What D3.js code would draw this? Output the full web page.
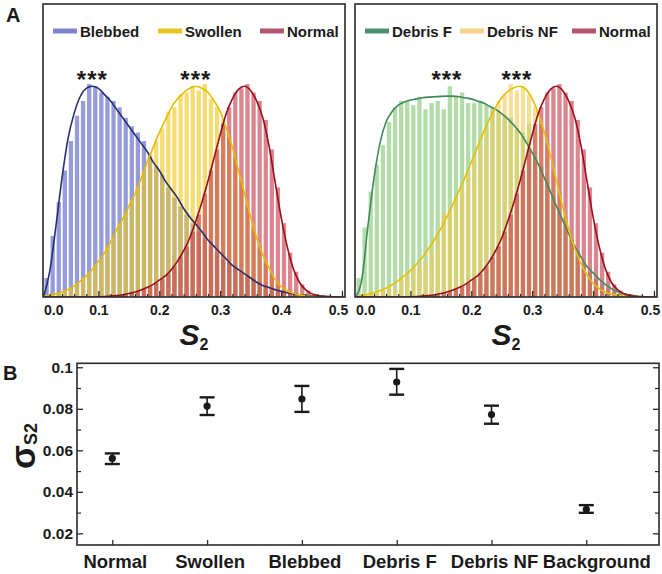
<!DOCTYPE html>
<html><head><meta charset="utf-8">
<script src="https://cdn.jsdelivr.net/npm/d3@7"></script>
<style>
body{margin:0;background:#fff;}
svg text{font-family:"Liberation Sans",Arial,sans-serif;font-weight:bold;fill:#1a1a1a;}
</style></head><body>
<svg id="c" width="662" height="574"></svg>
<script>
// ---------- DATA ----------
const binWidth = 0.01;
const binStart = d3.range(49).map(i => +(0.01 + i * binWidth).toFixed(2));   // 0.01 .. 0.49
const curveX   = d3.range(50).map(i => +(0.01 + i * 0.01).toFixed(2));      // 0.01 .. 0.50

const blebbedBars = [0.09,0.29,0.45,0.60,0.74,0.86,0.93,1.01,1.00,0.97,0.95,0.93,0.90,0.85,0.81,0.78,0.74,0.67,0.62,0.58,0.52,0.47,0.43,0.39,0.35,0.31,0.27,0.24,0.21,0.18,0.16,0.14,0.12,0.10,0.085,0.07,0.055,0.045,0.035,0.028,0.021,0.016,0.012,0.008,0.006,0.004,0.003,0.002,0.001];
const swollenBars = [0.005,0.01,0.02,0.03,0.04,0.06,0.09,0.11,0.15,0.18,0.24,0.28,0.35,0.40,0.46,0.52,0.60,0.68,0.74,0.80,0.88,0.90,0.96,0.97,1.00,0.98,1.01,0.94,0.90,0.84,0.76,0.66,0.55,0.43,0.33,0.24,0.17,0.11,0.07,0.04,0.025,0.014,0.008,0.005,0.003,0.002,0.001,0,0];
const normalBars  = [0,0,0,0,0,0,0,0,0.001,0.002,0.003,0.005,0.008,0.013,0.02,0.028,0.038,0.05,0.066,0.085,0.11,0.145,0.19,0.24,0.31,0.39,0.49,0.60,0.70,0.82,0.90,0.97,0.99,1.01,0.97,0.93,0.84,0.70,0.52,0.35,0.21,0.12,0.06,0.03,0.015,0.007,0.003,0.001,0];
const debrisFBars = [0.09,0.33,0.50,0.63,0.72,0.83,0.90,0.93,0.93,0.91,0.95,0.89,0.92,0.93,0.89,1.00,0.95,0.97,0.92,0.92,0.93,0.91,0.90,0.88,0.86,0.85,0.80,0.78,0.82,0.66,0.62,0.55,0.48,0.40,0.33,0.27,0.21,0.16,0.12,0.085,0.06,0.04,0.025,0.015,0.01,0.006,0.003,0.002,0.001];
const debrisNFBars = [0.005,0.02,0.03,0.025,0.04,0.05,0.04,0.09,0.10,0.14,0.15,0.17,0.22,0.28,0.40,0.41,0.47,0.52,0.58,0.66,0.72,0.80,0.88,0.93,0.96,1.01,0.98,1.00,0.96,0.90,0.82,0.73,0.60,0.50,0.38,0.28,0.19,0.13,0.08,0.05,0.03,0.02,0.01,0.006,0.003,0.001,0,0,0];

const blebbedFit = [0,0.12,0.33,0.56,0.75,0.87,0.95,0.99,1.00,0.99,0.96,0.93,0.89,0.85,0.81,0.77,0.73,0.69,0.64,0.60,0.55,0.51,0.47,0.42,0.38,0.345,0.31,0.27,0.24,0.21,0.18,0.15,0.13,0.11,0.09,0.07,0.055,0.045,0.035,0.027,0.02,0.015,0.011,0.008,0.006,0.004,0.003,0.002,0.001,0];
const swollenFit = [0.003,0.008,0.015,0.024,0.036,0.052,0.075,0.10,0.13,0.17,0.21,0.26,0.32,0.37,0.43,0.49,0.56,0.64,0.71,0.78,0.84,0.90,0.94,0.97,0.99,1.00,0.99,0.97,0.93,0.88,0.80,0.71,0.60,0.49,0.38,0.28,0.20,0.14,0.085,0.05,0.03,0.018,0.01,0.006,0.003,0.002,0.001,0,0,0];
const normalFit = [0,0,0,0,0,0,0,0,0,0.001,0.002,0.004,0.007,0.011,0.017,0.024,0.033,0.045,0.06,0.08,0.10,0.13,0.17,0.22,0.28,0.36,0.45,0.55,0.66,0.77,0.87,0.94,0.985,1.00,0.98,0.93,0.85,0.72,0.55,0.38,0.24,0.135,0.07,0.035,0.016,0.007,0.003,0.001,0,0];
const debrisFFit = [0,0.08,0.33,0.56,0.73,0.83,0.88,0.91,0.925,0.935,0.94,0.945,0.948,0.95,0.952,0.953,0.953,0.95,0.945,0.94,0.93,0.92,0.905,0.89,0.87,0.845,0.815,0.78,0.735,0.685,0.63,0.565,0.50,0.43,0.365,0.30,0.24,0.19,0.145,0.115,0.085,0.06,0.04,0.026,0.016,0.009,0.005,0.002,0.001,0];
const debrisNFFit = [0.002,0.006,0.012,0.02,0.03,0.042,0.058,0.078,0.10,0.125,0.155,0.19,0.23,0.275,0.325,0.38,0.44,0.505,0.57,0.64,0.71,0.78,0.845,0.90,0.945,0.975,0.993,1.00,0.985,0.94,0.87,0.78,0.67,0.55,0.43,0.32,0.23,0.16,0.105,0.065,0.04,0.024,0.014,0.008,0.004,0.002,0.001,0,0,0];

const xTicksMajor = [0.0,0.1,0.2,0.3,0.4,0.5];
const xTicksMinor = [0.02,0.04,0.06,0.08,0.12,0.14,0.16,0.18,0.22,0.24,0.26,0.28,0.32,0.34,0.36,0.38,0.42,0.44,0.46,0.48];

const leftSeries  = ["Blebbed","Swollen","Normal"];
const rightSeries = ["Debris F","Debris NF","Normal"];
const starsLeft  = [0.09, 0.26];
const starsRight = [0.16, 0.275];

const categories = ["Normal","Swollen","Blebbed","Debris F","Debris NF","Background"];
const sigmaMean  = [0.0561,0.0813,0.0847,0.0929,0.0772,0.0316];
const sigmaLow   = [0.0534,0.0770,0.0785,0.0868,0.0728,0.0299];
const sigmaHigh  = [0.0585,0.0855,0.0910,0.0992,0.0815,0.0336];
const yTicksB    = [0.02,0.04,0.06,0.08,0.1];
const yTicksBMinor = [0.03,0.05,0.07,0.09];

// ---------- STYLE ----------
const style = {
  "Blebbed":  {bar:"#6870cc", op:0.7,  line:"#27306e", sw:"#7c84cc"},
  "Swollen":  {bar:"#f0c81a", op:0.62, line:"#e6bd00", sw:"#e8c521"},
  "Normal":   {bar:"#c94353", op:0.65, line:"#990f1d", sw:"#b4566e"},
  "Debris F": {bar:"#7fc46e", op:0.6,  line:"#3f8a5a", sw:"#4d8f6e"},
  "Debris NF":{bar:"#f0cc55", op:0.6,  line:"#e6c000", sw:"#f2d48a"}
};
const barsOf = {"Blebbed":blebbedBars,"Swollen":swollenBars,"Normal":normalBars,"Debris F":debrisFBars,"Debris NF":debrisNFBars};
const fitOf  = {"Blebbed":blebbedFit,"Swollen":swollenFit,"Normal":normalFit,"Debris F":debrisFFit,"Debris NF":debrisNFFit};

const svg = d3.select("#c");
const dark = "#2a2a2a";

// ---------- PANEL A ----------
const pTop = 4, pBottom = 297;
const yA = d3.scaleLinear().domain([0, 1.39]).range([pBottom, pTop]);

const panels = [
  {x0:43, x1:345, series:leftSeries, stars:starsLeft, legendX:[53,158,260], id:"L"},
  {x0:355, x1:657, series:rightSeries, stars:starsRight, legendX:[365,460,572], id:"R"}
];

panels.forEach(p => {
  const x = d3.scaleLinear().domain([0.009, 0.505]).range([p.x0, p.x1]);
  const g = svg.append("g");
  const clipId = "clip" + p.id;
  svg.append("clipPath").attr("id", clipId).append("rect")
    .attr("x", p.x0).attr("y", pTop).attr("width", p.x1 - p.x0).attr("height", pBottom - pTop);
  const plot = g.append("g").attr("clip-path", `url(#${clipId})`);

  p.series.forEach(name => {
    const st = style[name];
    plot.append("g").selectAll("rect").data(barsOf[name]).join("rect")
      .attr("x", (d,i) => x(binStart[i]) + 0.8)
      .attr("width", (d,i) => Math.max(0, x(binStart[i] + binWidth) - x(binStart[i]) - 1.8))
      .attr("y", d => yA(d))
      .attr("height", d => pBottom - yA(d))
      .attr("fill", st.bar).attr("fill-opacity", st.op);
  });
  p.series.forEach(name => {
    const st = style[name];
    const line = d3.line().x((d,i) => x(curveX[i])).y(d => yA(d)).curve(d3.curveMonotoneX);
    plot.append("path").datum(fitOf[name]).attr("d", line)
      .attr("fill","none").attr("stroke", st.line).attr("stroke-width", 1.6);
  });

  g.append("rect").attr("x", p.x0).attr("y", pTop).attr("width", p.x1 - p.x0).attr("height", pBottom - pTop)
    .attr("fill","none").attr("stroke", dark).attr("stroke-width", 1.6);

  const ax = g.append("g").attr("transform", `translate(0,${pBottom})`);
  ax.call(d3.axisBottom(x).tickValues(xTicksMinor).tickSize(-3).tickFormat(""))
    .call(a => a.select(".domain").remove())
    .call(a => a.selectAll("line").attr("stroke", dark).attr("stroke-width", 1.2));
  const axM = g.append("g").attr("transform", `translate(0,${pBottom})`);
  axM.call(d3.axisBottom(x).tickValues(xTicksMajor).tickSize(-6).tickPadding(8).tickFormat(d3.format(".1f")))
    .call(a => a.select(".domain").remove())
    .call(a => a.selectAll("line").attr("stroke", dark).attr("stroke-width", 1.3))
    .call(a => a.selectAll("text").attr("font-size", 14).attr("font-family", null).attr("fill", "#1a1a1a"));
  axM.selectAll(".tick").filter(d => d === 0).call(t => {
    t.select("line").remove();
    t.select("text").attr("text-anchor","start").attr("x", p.x0 - x(0) + 0.5);
  });
  axM.selectAll(".tick").filter(d => d === 0.5).select("text").attr("dx", -4);

  p.series.forEach((name, i) => {
    const lx = p.legendX[i];
    g.append("line").attr("x1", lx).attr("x2", lx + 24).attr("y1", 31).attr("y2", 31)
      .attr("stroke", style[name].sw).attr("stroke-width", 5);
    g.append("text").attr("x", lx + 27).attr("y", 36.5).attr("font-size", 15).text(name);
  });

  g.selectAll("text.star").data(p.stars).join("text").attr("class","star")
    .attr("x", d => x(d)).attr("y", 88).attr("text-anchor","middle")
    .attr("font-size", 24).attr("letter-spacing", 1).text("***");

  const t = g.append("text").attr("x", (p.x0 + p.x1) / 2).attr("y", 345).attr("text-anchor","middle");
  t.append("tspan").attr("font-size", 30).attr("font-style","italic").text("S");
  t.append("tspan").attr("font-size", 16).attr("dy", 5).text("2");
});

svg.append("text").attr("x", 6).attr("y", 22).attr("font-size", 20).text("A");

// ---------- PANEL B ----------
const bx0 = 77, bx1 = 659, by0 = 363.3, by1 = 545;
const xB = d3.scalePoint().domain(categories).range([112.3, 586.3]);
const yB = d3.scaleLinear().domain([0.0144, 0.1019]).range([by1, by0]);
const gB = svg.append("g");

gB.append("rect").attr("x", bx0).attr("y", by0).attr("width", bx1 - bx0).attr("height", by1 - by0)
  .attr("fill","none").attr("stroke", dark).attr("stroke-width", 1.6);

const fmtB = d => d === 0.1 ? "0.1" : d3.format(".2f")(d);
gB.append("g").attr("transform", `translate(${bx0},0)`)
  .call(d3.axisLeft(yB).tickValues(yTicksB).tickSize(-6).tickPadding(4).tickFormat(fmtB))
  .call(a => a.select(".domain").remove())
  .call(a => a.selectAll("line").attr("stroke", dark).attr("stroke-width", 1.3))
  .call(a => a.selectAll("text").attr("font-size", 15.5).attr("font-family", null).attr("fill","#1a1a1a"));
gB.append("g").attr("transform", `translate(${bx0},0)`)
  .call(d3.axisLeft(yB).tickValues(yTicksBMinor).tickSize(-4).tickFormat(""))
  .call(a => a.select(".domain").remove())
  .call(a => a.selectAll("line").attr("stroke", dark).attr("stroke-width", 1.2));
gB.append("g").attr("transform", `translate(${bx1},0)`)
  .call(d3.axisRight(yB).tickValues(yTicksB).tickSize(-6).tickFormat(""))
  .call(a => a.select(".domain").remove())
  .call(a => a.selectAll("line").attr("stroke", dark).attr("stroke-width", 1.3));
gB.append("g").attr("transform", `translate(${bx1},0)`)
  .call(d3.axisRight(yB).tickValues(yTicksBMinor).tickSize(-4).tickFormat(""))
  .call(a => a.select(".domain").remove())
  .call(a => a.selectAll("line").attr("stroke", dark).attr("stroke-width", 1.2));
gB.append("g").attr("transform", `translate(0,${by1})`)
  .call(d3.axisBottom(xB).tickSize(-5).tickPadding(10))
  .call(a => a.select(".domain").remove())
  .call(a => a.selectAll("line").attr("stroke", dark).attr("stroke-width", 1.3))
  .call(a => a.selectAll("text").attr("font-size", 18.5).attr("font-family", null).attr("fill","#1a1a1a")
                 .attr("dx", d => d === "Background" ? 10 : 2.5));

const eb = gB.append("g").selectAll("g").data(categories).join("g");
eb.append("line").attr("x1", d => xB(d)).attr("x2", d => xB(d))
  .attr("y1", (d,i) => yB(sigmaLow[i])).attr("y2", (d,i) => yB(sigmaHigh[i]))
  .attr("stroke","#1a1a1a").attr("stroke-width", 1.6);
[sigmaLow, sigmaHigh].forEach(arr => {
  eb.append("line").attr("x1", d => xB(d) - 7.5).attr("x2", d => xB(d) + 7.5)
    .attr("y1", (d,i) => yB(arr[i])).attr("y2", (d,i) => yB(arr[i]))
    .attr("stroke","#1a1a1a").attr("stroke-width", 2.4);
});
eb.append("circle").attr("cx", d => xB(d)).attr("cy", (d,i) => yB(sigmaMean[i])).attr("r", 3.6).attr("fill","#1a1a1a");

const yt = svg.append("text").attr("transform","translate(35,446) rotate(-90)").attr("text-anchor","middle");
yt.append("tspan").attr("font-size", 35).text("σ");
yt.append("tspan").attr("font-size", 18).attr("dy", 2).text("S2");

svg.append("text").attr("x", 3).attr("y", 380).attr("font-size", 20).text("B");
</script>
</body></html>
